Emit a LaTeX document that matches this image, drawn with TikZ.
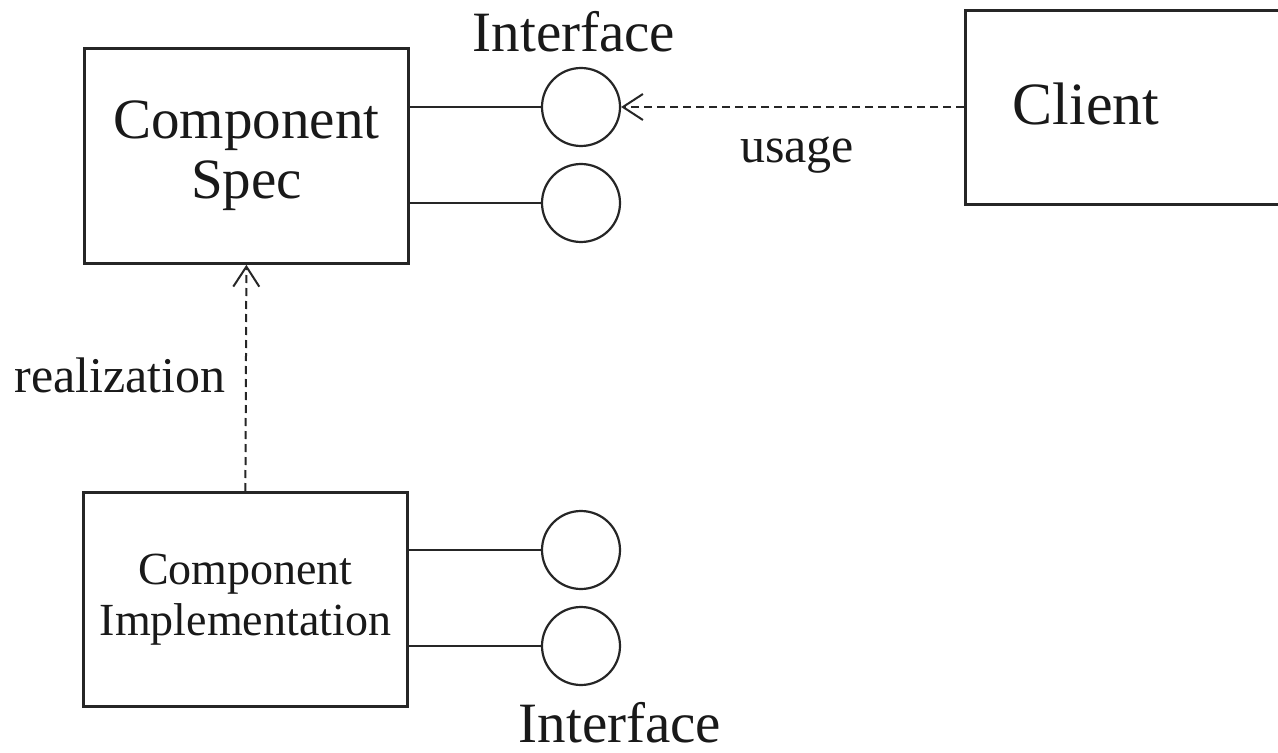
\documentclass[tikz,border=0pt]{standalone}
\usepackage{fontspec}
\setmainfont{Liberation Serif}
\usetikzlibrary{arrows.meta}
\begin{document}
\begin{tikzpicture}[x=0.5pt,y=-0.5pt,
  box/.style={draw=black!85, line width=1.4pt, rectangle, inner sep=0pt, text=black!90},
  port/.style={draw=black!85, line width=1.1pt, circle, minimum size=39pt, inner sep=0pt},
  wire/.style={draw=black!85, line width=1.1pt},
  dep/.style={draw=black!85, line width=1pt, dash pattern=on 4pt off 2.5pt,
    -{Straight Barb[length=10pt,width=13pt,line width=1pt]}},
  lbl/.style={text=black!90, anchor=base},
  big/.style={font=\fontsize{28.5}{30}\selectfont},
  mid/.style={font=\fontsize{25}{27}\selectfont},
  small/.style={font=\fontsize{23}{25.5}\selectfont}
]
\useasboundingbox[fill=white] (0,0) rectangle (1278,753);
\clip (0,0) rectangle (1278,753);

% components
\node[box, big, align=center, anchor=north west, minimum width=162pt, minimum height=107.5pt]
  (spec) at (83,47) {Component\\Spec};
\node[box, small, align=center, anchor=north west, minimum width=162pt, minimum height=107pt]
  (impl) at (82,491) {Component\\Implementation};
\node[box, anchor=north west, minimum width=178pt, minimum height=97pt]
  (client) at (964,9) {};
\node[lbl, font=\fontsize{30}{32}\selectfont] (clientText) at (1086,125) {Client};

% interface lollipops
\node[port] (i1) at (581,107) {};
\node[port] (i2) at (581,203) {};
\node[port] (i3) at (581,550) {};
\node[port] (i4) at (581,646) {};

\draw[wire] (spec.east |- i1.west) -- (i1.west);
\draw[wire] (spec.east |- i2.west) -- (i2.west);
\draw[wire] (impl.east |- i3.west) -- (i3.west);
\draw[wire] (impl.east |- i4.west) -- (i4.west);

% dependencies
\draw[dep] (client.west |- i1.east) -- (i1.east);
\draw[dep] (impl.north) -- (spec.south);

% labels
\node[lbl, big] (ifTop) at (574,52) {Interface};
\node[lbl, mid] (usageLbl) at (797,163) {usage};
\node[lbl, mid] (realLbl) at (120,392) {realization};
\node[lbl, big] (ifBot) at (620,742) {Interface};
\end{tikzpicture}
\end{document}
